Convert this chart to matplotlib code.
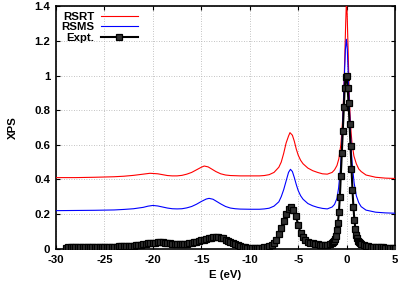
import matplotlib
matplotlib.use("Agg")
import matplotlib.pyplot as plt

plt.rcParams['font.family'] = ['Liberation Sans', 'DejaVu Sans']
plt.rcParams['font.weight'] = 'bold'
plt.rcParams['axes.unicode_minus'] = False

# RSRT (red)
rsrt_e = [-30, -28, -26, -24, -23, -22, -21, -20.3, -19.5, -19, -18.5, -18, -17.5, -17, -16.5, -16,
          -15.5, -15, -14.7, -14.3, -14, -13.5, -13, -12.5, -12, -11, -10, -9, -8.5, -8, -7.5, -7,
          -6.75, -6.5, -6.25, -6, -5.85, -5.6, -5.4, -5.2, -5, -4.75, -4.5, -4, -3.5, -3, -2.5, -2,
          -1.5, -1.25, -1.0, -0.8, -0.6, -0.5, -0.4, -0.3, -0.2, -0.1, -0.03, 0.05, 0.15, 0.25,
          0.35, 0.45, 0.55, 0.75, 1.0, 1.25, 1.5, 2, 3, 4, 5]
rsrt_y = [0.41, 0.41, 0.412, 0.415, 0.418, 0.423, 0.43, 0.435, 0.432, 0.427, 0.422, 0.42, 0.42, 0.423,
          0.43, 0.44, 0.455, 0.47, 0.477, 0.472, 0.462, 0.445, 0.432, 0.425, 0.422, 0.42, 0.42, 0.42,
          0.422, 0.427, 0.44, 0.47, 0.50, 0.55, 0.61, 0.65, 0.67, 0.655, 0.62, 0.575, 0.54, 0.51, 0.49,
          0.465, 0.45, 0.44, 0.432, 0.43, 0.44, 0.455, 0.48, 0.52, 0.60, 0.67, 0.76, 0.90, 1.09, 1.30,
          1.42, 1.36, 1.15, 0.93, 0.78, 0.68, 0.61, 0.535, 0.49, 0.46, 0.445, 0.425, 0.412, 0.407, 0.405]

# RSMS (blue)
rsms_e = [-30, -28, -26, -24, -23, -22, -21, -20.5, -20, -19.5, -19, -18.5, -18, -17.5, -17, -16.5,
          -16, -15.5, -15, -14.5, -14.2, -13.8, -13.5, -13, -12.5, -12, -11.5, -11, -10, -9, -8.5, -8,
          -7.5, -7, -6.75, -6.5, -6.25, -6, -5.8, -5.6, -5.4, -5.2, -5, -4.75, -4.5, -4, -3.5, -3,
          -2.5, -2, -1.5, -1.25, -1.0, -0.83, -0.63, -0.53, -0.43, -0.33, -0.23, -0.13, -0.03, 0.07,
          0.17, 0.27, 0.37, 0.47, 0.57, 0.77, 1.0, 1.25, 1.5, 2, 3, 4, 5]
rsms_y = [0.219, 0.22, 0.221, 0.223, 0.226, 0.23, 0.238, 0.245, 0.249, 0.246, 0.24, 0.234, 0.23, 0.229,
          0.23, 0.235, 0.243, 0.256, 0.272, 0.286, 0.29, 0.285, 0.275, 0.258, 0.243, 0.234, 0.23, 0.228,
          0.227, 0.227, 0.229, 0.233, 0.245, 0.27, 0.30, 0.34, 0.39, 0.44, 0.458, 0.445, 0.41, 0.37,
          0.335, 0.305, 0.285, 0.26, 0.247, 0.238, 0.232, 0.229, 0.24, 0.255, 0.29, 0.35, 0.47, 0.56,
          0.69, 0.84, 1.0, 1.15, 1.21, 1.15, 1.0, 0.84, 0.7, 0.58, 0.49, 0.38, 0.305, 0.265, 0.242,
          0.222, 0.21, 0.206, 0.204]

# Expt. (black with markers)
expt_e = [-29.00, -28.75, -28.50, -28.25, -28.00, -27.75, -27.50, -27.25, -27.00, -26.75, -26.50,
          -26.25, -26.00, -25.75, -25.50, -25.25, -25.00, -24.75, -24.50, -24.25, -24.00, -23.75,
          -23.50, -23.25, -23.00, -22.75, -22.50, -22.25, -22.00, -21.75, -21.50, -21.25, -21.00,
          -20.75, -20.50, -20.25, -20.00, -19.75, -19.50, -19.25, -19.00, -18.75, -18.50, -18.25,
          -18.00, -17.75, -17.50, -17.25, -17.00, -16.75, -16.50, -16.25, -16.00, -15.75, -15.50,
          -15.25, -15.00, -14.75, -14.50, -14.25, -14.00, -13.75, -13.50, -13.25, -13.00, -12.75,
          -12.50, -12.25, -12.00, -11.75, -11.50, -11.25, -11.00, -10.75, -10.50, -10.25, -10.00,
          -9.75, -9.50, -9.25, -9.00, -8.75, -8.50, -8.25, -8.00, -7.75, -7.50, -7.25, -7.00, -6.75,
          -6.50, -6.25, -6.00, -5.75, -5.50, -5.25, -5.00, -4.75, -4.50, -4.25, -4.00, -3.75, -3.50,
          -3.25, -3.00, -2.75, -2.50, -2.25, -2.00, -1.75, -1.50, -1.40, -1.30, -1.20, -1.10, -1.00,
          -0.90, -0.80, -0.70, -0.60, -0.50, -0.40, -0.30, -0.20, -0.10, 0.00, 0.10, 0.20, 0.30, 0.40,
          0.50, 0.60, 0.70, 0.80, 0.90, 1.00, 1.10, 1.20, 1.30, 1.40, 1.50, 1.75, 2.00, 2.25, 2.50,
          2.75, 3.00, 3.25, 3.50, 3.75, 4.00, 4.25, 4.50, 4.75, 5.00]
expt_y = [0.005, 0.006, 0.007, 0.007, 0.008, 0.008, 0.008, 0.009, 0.009, 0.009, 0.009,
          0.010, 0.010, 0.010, 0.010, 0.010, 0.010, 0.010, 0.010, 0.010, 0.011, 0.011,
          0.012, 0.012, 0.013, 0.014, 0.015, 0.016, 0.017, 0.019, 0.021, 0.023, 0.025,
          0.027, 0.029, 0.031, 0.032, 0.034, 0.035, 0.035, 0.035, 0.034, 0.032, 0.030,
          0.028, 0.026, 0.025, 0.025, 0.025, 0.026, 0.028, 0.030, 0.033, 0.036, 0.040,
          0.044, 0.048, 0.052, 0.056, 0.060, 0.063, 0.066, 0.067, 0.066, 0.063, 0.058,
          0.052, 0.045, 0.038, 0.031, 0.025, 0.019, 0.014, 0.010, 0.007, 0.005, 0.004,
          0.003, 0.003, 0.003, 0.004, 0.005, 0.007, 0.010, 0.015, 0.022, 0.032, 0.050, 0.085, 0.120,
          0.160, 0.200, 0.228, 0.238, 0.225, 0.190, 0.135, 0.090, 0.065, 0.050, 0.040, 0.033, 0.029,
          0.026, 0.024, 0.023, 0.022, 0.022, 0.023, 0.026, 0.032, 0.036, 0.044, 0.056, 0.075, 0.105,
          0.150, 0.210, 0.300, 0.420, 0.550, 0.680, 0.820, 0.930, 0.990, 1.000, 0.930, 0.840, 0.720, 0.590,
          0.460, 0.340, 0.240, 0.165, 0.115, 0.080, 0.058, 0.044, 0.035, 0.029, 0.025, 0.019, 0.015, 0.012, 0.010,
          0.009, 0.008, 0.007, 0.006, 0.006, 0.005, 0.005, 0.004, 0.004, 0.004]

x_ticks = [-30, -25, -20, -15, -10, -5, 0, 5]
y_ticks = [0, 0.2, 0.4, 0.6, 0.8, 1.0, 1.2, 1.4]
y_tick_labels = ['0', '0.2', '0.4', '0.6', '0.8', '1', '1.2', '1.4']

FS = 8.2

fig = plt.figure(figsize=(4.15, 2.91), dpi=100)
ax = fig.add_axes([0.135, 0.146, 0.817, 0.832])

ax.plot(rsrt_e, rsrt_y, color='#ff0000', lw=0.8, label='RSRT', zorder=3)
ax.plot(rsms_e, rsms_y, color='#0000ff', lw=0.8, label='RSMS', zorder=3)
ax.plot(expt_e, expt_y, color='black', lw=1.5, marker='s', markersize=3.7,
        markerfacecolor='#303030', markeredgewidth=0.9, markeredgecolor='black',
        label='Expt.', zorder=4)

ax.set_xlim(-30, 5)
ax.set_ylim(0, 1.4)
ax.set_xticks(x_ticks)
ax.set_yticks(y_ticks)
ax.set_yticklabels(y_tick_labels)
ax.grid(True, color='#b0b0b0', linestyle=(0, (1, 2)), linewidth=0.6)
ax.tick_params(direction='in', top=True, right=True, length=3, width=0.8,
               labelsize=FS)
ax.tick_params(axis='x', pad=5)
ax.tick_params(axis='y', pad=4)
for lab in ax.get_xticklabels() + ax.get_yticklabels():
    lab.set_fontweight('bold')
for sp in ax.spines.values():
    sp.set_linewidth(1.2)

ax.set_xlabel('E (eV)', fontsize=FS, fontweight='bold', labelpad=3)
ax.set_ylabel('XPS', fontsize=FS, fontweight='bold', labelpad=12)

leg = ax.legend(loc='upper left', bbox_to_anchor=(0.0, 1.0), markerfirst=False,
                frameon=False, fontsize=FS, handlelength=3.2, handletextpad=0.6,
                labelspacing=0.05, borderaxespad=0.15, borderpad=0.3)
for t in leg.get_texts():
    t.set_fontweight('bold')
leg.set_zorder(10)

fig.savefig('out.png', dpi=100)
